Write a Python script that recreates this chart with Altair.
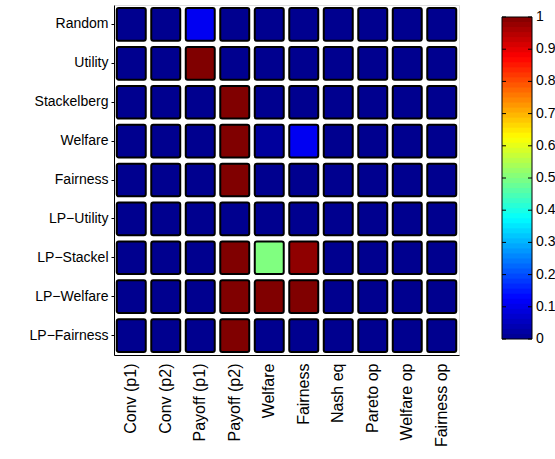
import altair as alt
import pandas as pd

# Methods (rows) and evaluation criteria (columns)
methods = ["Random", "Utility", "Stackelberg", "Welfare", "Fairness",
           "LP−Utility", "LP−Stackel", "LP−Welfare", "LP−Fairness"]
criteria = ["Conv (p1)", "Conv (p2)", "Payoff (p1)", "Payoff (p2)", "Welfare",
            "Fairness", "Nash eq", "Pareto op", "Welfare op", "Fairness op"]

# Score of each method on each criterion
random_scores      = [0, 0, 0.11, 0, 0, 0, 0, 0, 0, 0]
utility_scores     = [0, 0, 1, 0, 0, 0, 0, 0, 0, 0]
stackelberg_scores = [0, 0, 0, 1, 0, 0, 0, 0, 0, 0]
welfare_scores     = [0, 0, 0, 1, 0.015, 0.11, 0, 0, 0, 0]
fairness_scores    = [0, 0, 0, 1, 0, 0, 0, 0, 0, 0]
lp_utility_scores  = [0, 0, 0, 0, 0, 0, 0, 0, 0, 0]
lp_stackel_scores  = [0, 0, 0, 1, 0.5, 0.985, 0, 0, 0, 0]
lp_welfare_scores  = [0, 0, 0, 1, 1, 1, 0, 0, 0, 0]
lp_fairness_scores = [0, 0, 0, 1, 0, 0, 0, 0, 0, 0]

score_rows = [random_scores, utility_scores, stackelberg_scores, welfare_scores,
              fairness_scores, lp_utility_scores, lp_stackel_scores,
              lp_welfare_scores, lp_fairness_scores]

# Colour bar ticks and labels
colorbar_ticks = [0, 0.1, 0.2, 0.3, 0.4, 0.5, 0.6, 0.7, 0.8, 0.9, 1]
colorbar_labels = ["0", "0.1", "0.2", "0.3", "0.4", "0.5", "0.6", "0.7", "0.8", "0.9", "1"]

# Jet colormap as piecewise-linear stops
jet_stops = [0, 0.125, 0.375, 0.625, 0.875, 1]
jet_colors = ["#00008F", "#0000FF", "#00FFFF", "#FFFF00", "#FF0000", "#800000"]
N_LEVELS = 64  # number of colour steps in the colour bar

records = []
for method, row in zip(methods, score_rows):
    for crit, val in zip(criteria, row):
        records.append({"method": method, "criterion": crit, "value": val})
df = pd.DataFrame(records)
ticks_df = pd.DataFrame({"tick": colorbar_ticks, "label": colorbar_labels})
frame_df = pd.DataFrame({"lo": [0], "hi": [1]})

FONT = "Liberation Sans"
color_scale = alt.Scale(domain=jet_stops, range=jet_colors, interpolate="rgb")

# Colour bar placement inside the chart's coordinate frame
CB_X, CB_Y, CB_W, CB_LEN = 388, 12, 30, 322
cb_scale = alt.Scale(domain=[0, 1], range=[CB_Y + CB_LEN, CB_Y])

cells = alt.Chart(df).mark_rect(
    stroke="black", strokeWidth=2, cornerRadius=2
).encode(
    x=alt.X(
        "criterion:N", sort=criteria,
        scale=alt.Scale(paddingInner=0.16, paddingOuter=0.08),
        axis=alt.Axis(title=None, labelAngle=-90, labelPadding=8, ticks=False,
                      labelFontSize=16, labelColor="black", domainColor="black",
                      labelFont=FONT, grid=False),
    ),
    y=alt.Y(
        "method:N", sort=methods,
        scale=alt.Scale(paddingInner=0.16, paddingOuter=0.08),
        axis=alt.Axis(title=None, tickSize=3, labelPadding=3, labelFontSize=14,
                      labelColor="black", domainColor="black", tickColor="black",
                      labelFont=FONT, grid=False),
    ),
    color=alt.Color("value:Q", scale=color_scale, legend=None),
)

# Stepped colour bar: one band per colormap level (bands overlap slightly
# so no seams show between neighbours)
bands = alt.Chart(alt.sequence(0, 1, 1 / N_LEVELS, as_="lo")).transform_calculate(
    hi=f"min(datum.lo + {1.4 / N_LEVELS}, 1)",
    mid=f"datum.lo + {0.5 / N_LEVELS}",
).mark_rect().encode(
    y=alt.Y("lo:Q", scale=cb_scale, axis=None),
    y2="hi:Q",
    x=alt.value(CB_X), x2=alt.value(CB_X + CB_W),
    color=alt.Color("mid:Q", scale=color_scale, legend=None),
)

frame = alt.Chart(frame_df).mark_rect(
    fillOpacity=0, stroke="black", strokeWidth=1
).encode(
    y=alt.Y("lo:Q", scale=cb_scale, axis=None),
    y2="hi:Q",
    x=alt.value(CB_X), x2=alt.value(CB_X + CB_W),
)

left_ticks = alt.Chart(ticks_df).mark_rule(color="black", strokeWidth=1).encode(
    y=alt.Y("tick:Q", scale=cb_scale, axis=None),
    x=alt.value(CB_X), x2=alt.value(CB_X + 4),
)
right_ticks = alt.Chart(ticks_df).mark_rule(color="black", strokeWidth=1).encode(
    y=alt.Y("tick:Q", scale=cb_scale, axis=None),
    x=alt.value(CB_X + CB_W - 4), x2=alt.value(CB_X + CB_W),
)
tick_labels = alt.Chart(ticks_df).mark_text(
    align="left", baseline="middle", font=FONT, fontSize=14, color="black"
).encode(
    y=alt.Y("tick:Q", scale=cb_scale, axis=None),
    x=alt.value(CB_X + CB_W + 4),
    text="label:N",
)

chart = alt.layer(
    cells, bands, frame, left_ticks, right_ticks, tick_labels
).resolve_scale(
    y="independent"
).properties(
    width=345, height=350,
    padding={"left": 114, "top": 5, "right": 96, "bottom": 104},
    autosize="none",
).configure_view(stroke=None).configure(background="white")

chart.save("out.html", embed_options={"renderer": "svg", "actions": False})
